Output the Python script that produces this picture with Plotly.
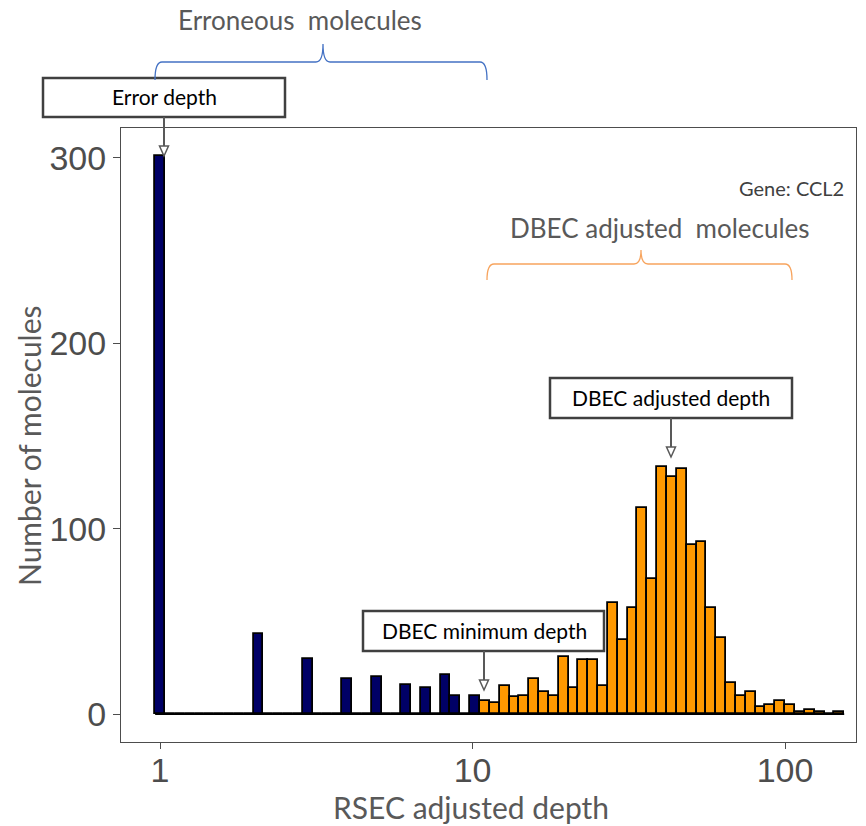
import plotly.graph_objects as go

# ---------------- data ----------------
# histogram bins on log10(depth); bin k is centred at k * bin_width (log10 units)
bin_width = 0.0315
# counts for bins 0..32 (erroneous molecules, depth 1..10)
error_counts = [301, 0, 0, 0, 0, 0, 0, 0, 0, 0,
                43, 0, 0, 0, 0, 30, 0, 0, 0, 19,
                0, 0, 20, 0, 0, 16, 0, 14, 0, 21,
                10, 0, 10]
# counts for bins 33..69 (DBEC adjusted molecules)
dbec_counts = [7, 6, 15, 9, 10, 19, 12, 10, 31, 14,
               29, 29, 15, 60, 40, 57, 111, 73, 133, 128,
               132, 91, 93, 57, 41, 17, 10, 12, 4, 5,
               7, 5, 1, 2, 1, 0, 1]
tick_vals = [0, 1, 2]
tick_text = ["1", "10", "100"]
y_ticks = [0, 100, 200, 300]

error_x = [k * bin_width for k in range(len(error_counts))]
dbec_x = [(len(error_counts) + k) * bin_width for k in range(len(dbec_counts))]

# ---------------- layout geometry (pixels) ----------------
W, H = 866, 826
L, R, T, B = 121, 856, 128, 742


def px(x):
    return (x - L) / (R - L)


def py(y):
    return (B - y) / (B - T)


NAVY = "#000066"
ORANGE = "#FF9900"
TXT = "#595959"

fig = go.Figure()
fig.add_trace(go.Bar(x=error_x, y=error_counts, width=bin_width,
                     marker=dict(color=NAVY, line=dict(color="black", width=1.8)),
                     showlegend=False))
fig.add_trace(go.Bar(x=dbec_x, y=dbec_counts, width=bin_width,
                     marker=dict(color=ORANGE, line=dict(color="black", width=1.8)),
                     showlegend=False))
# zero-height bins drawn as an outline along the baseline
fig.add_trace(go.Scatter(x=[error_x[0] - bin_width / 2, dbec_x[-1] + bin_width / 2],
                         y=[0, 0], mode="lines",
                         line=dict(color="black", width=1.8), showlegend=False,
                         hoverinfo="skip"))

shapes = []
annotations = []


def text(x, y, s, size, color, family="Lato", angle=0, xanchor="center"):
    annotations.append(dict(xref="paper", yref="paper", x=px(x), y=py(y), text=s,
                            showarrow=False, xanchor=xanchor, yanchor="middle",
                            textangle=angle,
                            font=dict(family=family, size=size, color=color)))


def box(x0, y0, x1, y1, s, cx, cy):
    shapes.append(dict(type="rect", xref="paper", yref="paper",
                       x0=px(x0), x1=px(x1), y0=py(y1), y1=py(y0),
                       line=dict(color="#404040", width=2.5), fillcolor="white",
                       layer="above"))
    text(cx, cy, s, 21, "black")


def arrow(x, ystart, ytip):
    shapes.append(dict(type="line", xref="paper", yref="paper",
                       x0=px(x), x1=px(x), y0=py(ystart), y1=py(ytip - 10),
                       line=dict(color="#595959", width=2), layer="above"))
    path = "M {},{} L {},{} L {},{} Z".format(px(x - 4.5), py(ytip - 10), px(x + 4.5), py(ytip - 10),
                                           px(x), py(ytip))
    shapes.append(dict(type="path", xref="paper", yref="paper", path=path,
                       line=dict(color="#595959", width=1.5), fillcolor="white", layer="above"))


def brace(x0, x1, xm, yh, yb, ypk, color):
    r = 7
    pts = [
        "M {},{}".format(px(x0), py(yb)),
        "Q {},{} {},{}".format(px(x0), py(yh), px(x0 + r), py(yh)),
        "L {},{}".format(px(xm - r), py(yh)),
        "Q {},{} {},{}".format(px(xm), py(yh), px(xm), py(ypk)),
        "Q {},{} {},{}".format(px(xm), py(yh), px(xm + r), py(yh)),
        "L {},{}".format(px(x1 - r), py(yh)),
        "Q {},{} {},{}".format(px(x1), py(yh), px(x1), py(yb)),
    ]
    shapes.append(dict(type="path", xref="paper", yref="paper", path=" ".join(pts),
                       line=dict(color=color, width=1.3), layer="above"))


box(43, 78, 285, 117, "Error depth", 164, 97)
arrow(164, 117, 156)
box(550, 378, 792, 418, "DBEC adjusted depth", 671, 397)
arrow(671, 418, 457)
box(363, 611, 604, 651, "DBEC minimum depth", 484, 630)
arrow(484, 651, 690)

brace(155, 487, 323, 62, 80, 44, "#4472C4")
brace(487, 792, 641, 264, 280, 250, "#F7A45E")

text(300, 20, "Erroneous  molecules", 26, TXT)
text(660, 228, "DBEC adjusted  molecules", 26, TXT)
text(846, 188, "Gene: CCL2", 20, "#404040", xanchor="right")
text(471, 807, "RSEC adjusted depth", 30, TXT)
text(29, 445, "Number of molecules", 30, TXT, angle=-90)

fig.update_layout(
    width=W, height=H,
    margin=dict(l=L, r=W - R, t=T, b=H - B),
    paper_bgcolor="white", plot_bgcolor="white",
    bargap=0, barmode="overlay",
    shapes=shapes, annotations=annotations,
    xaxis=dict(range=[-0.125, 2.227], tickvals=tick_vals, ticktext=tick_text,
               showgrid=False, zeroline=False, showline=True, mirror=True,
               linecolor="#4D4D4D", linewidth=1, ticks="outside", ticklen=6,
               tickcolor="#4D4D4D", ticklabelstandoff=-8,
               tickfont=dict(family="Liberation Sans", size=34, color="#4D4D4D")),
    yaxis=dict(range=[-15, 316], tickvals=y_ticks,
               showgrid=False, zeroline=False, showline=True, mirror=True,
               linecolor="#4D4D4D", linewidth=1, ticks="outside", ticklen=7,
               tickcolor="#4D4D4D",
               tickfont=dict(family="Liberation Sans", size=34, color="#4D4D4D")),
)

fig.write_html("out.html")
